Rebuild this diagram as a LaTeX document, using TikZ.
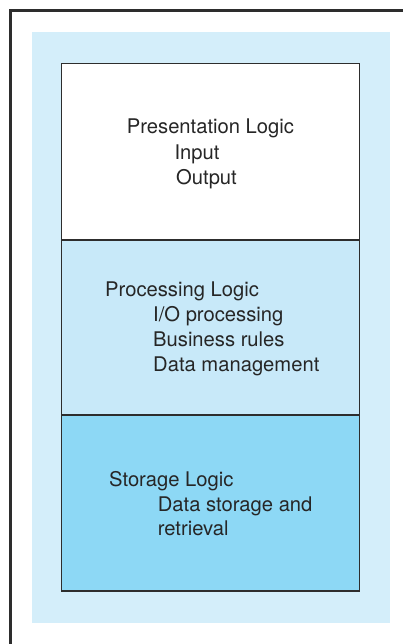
\documentclass[tikz,border=0pt]{standalone}
\usepackage{fontspec}
\setmainfont{TeX Gyre Heros}
\usepackage{tikz}
\usetikzlibrary{positioning, calc}

\definecolor{paleblue}{RGB}{212,238,250}
\definecolor{midblue}{RGB}{200,233,249}
\definecolor{deepblue}{RGB}{141,216,245}
\definecolor{edgegray}{RGB}{45,45,45}

\begin{document}
\begin{tikzpicture}[
			x=1pt, y=-1pt,
			layerbox/.style={draw=edgegray, line width=1.3pt, rectangle, outer sep=0pt,
				minimum width=298pt, inner sep=0pt},
			layertext/.style={anchor=base west, inner sep=0pt, text=black!85,
				font=\fontsize{20.2}{24}\selectfont}
			]
			\useasboundingbox (0,0) rectangle (403,644);
			% Cornice esterna
			\draw[edgegray, line width=2.5pt] (10.5,650) -- (10.5,10.5) -- (410,10.5);
			% Sfondo
			\fill[paleblue] (32,32) rectangle (390,623);
			% Livelli
			\node[layerbox, fill=white, minimum height=176.5pt, anchor=north west] (pres) at (61.5,63.5) {};
			\node[layerbox, fill=midblue, minimum height=175pt, below=0pt of pres] (proc) {};
			\node[layerbox, fill=deepblue, minimum height=176pt, below=0pt of proc] (stor) {};
			% Primo livello
			\node[layertext] (presT) at (126.7,134) {Presentation Logic};
			\node[layertext] (presIn) at (174.3,159.5) {Input};
			\node[layertext] (presOut) at (176,185) {Output};
			% Secondo livello
			\node[layertext] (procT) at (105,296.7) {Processing Logic};
			\node[layertext] (procIO) at (153,321.7) {I/O processing};
			\node[layertext] (procBR) at (153,346.7) {Business rules};
			\node[layertext] (procDM) at (153,371.7) {Data management};
			% Terzo livello
			\node[layertext] (storT) at (109,486) {Storage Logic};
			\node[layertext] (storDS) at (157.7,511) {Data storage and};
			\node[layertext] (storRe) at (157.7,535) {retrieval};
		\end{tikzpicture}
\end{document}
